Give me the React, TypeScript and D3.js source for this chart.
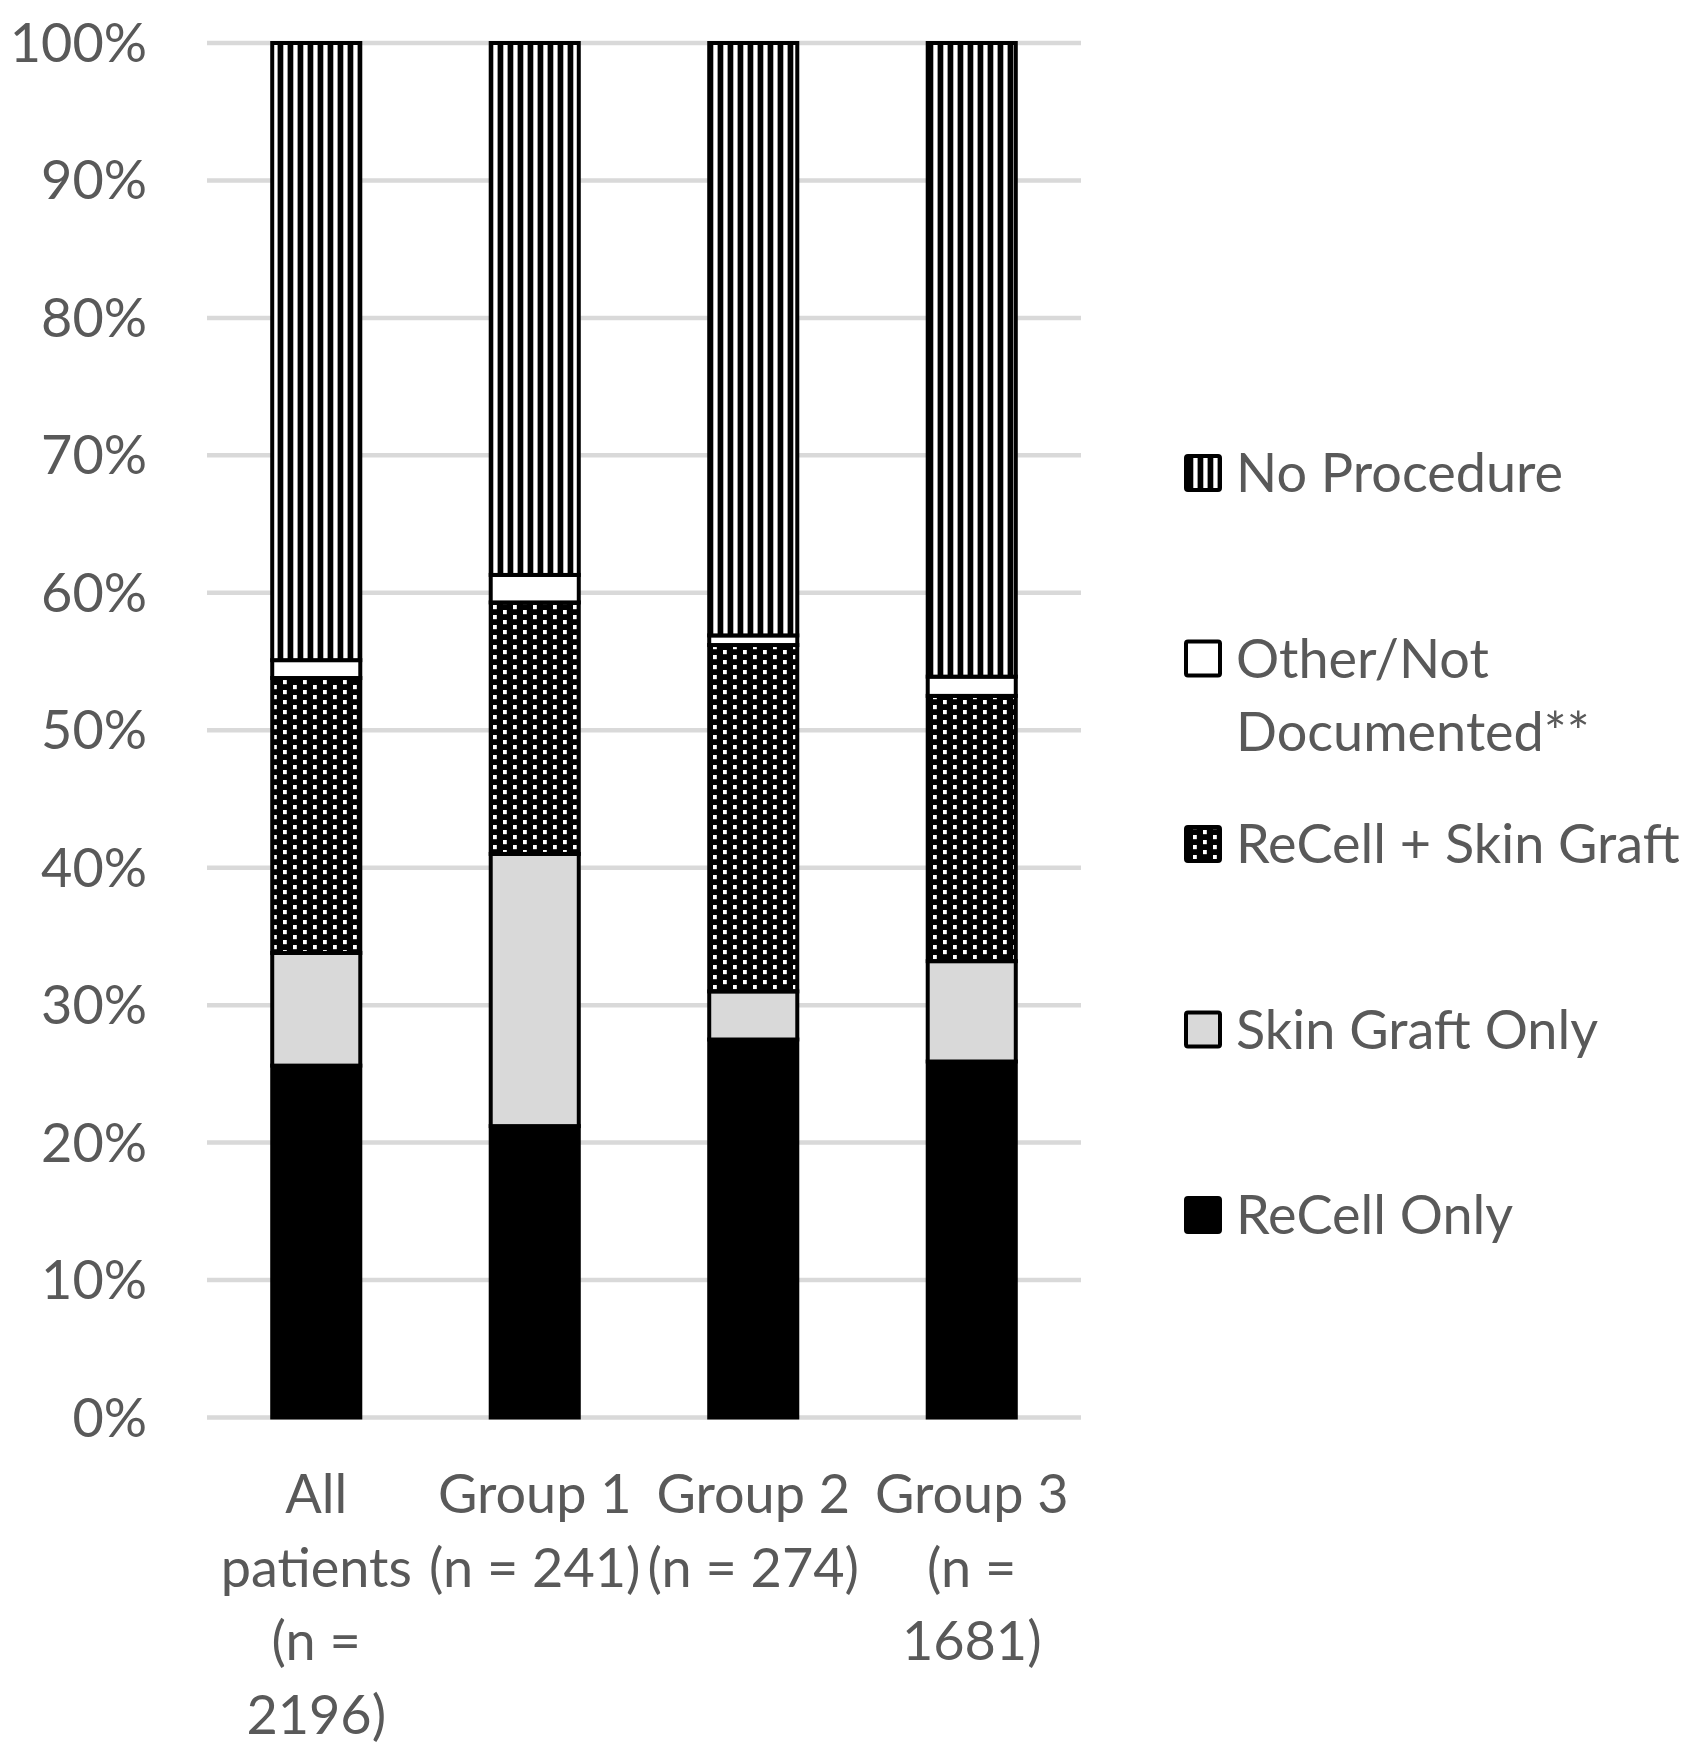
import * as d3 from 'd3'

// ── Data (percent of patients) ─────────────────────────────────────────────
const CATEGORIES = ['All patients', 'Group 1', 'Group 2', 'Group 3']
const CATEGORY_LINES = [
  ['All', 'patients', '(n =', '2196)'],
  ['Group 1', '(n = 241)'],
  ['Group 2', '(n = 274)'],
  ['Group 3', '(n =', '1681)'],
]
const RECELL_ONLY = [25.6, 21.2, 27.5, 25.9]
const SKIN_GRAFT_ONLY = [8.2, 19.8, 3.5, 7.3]
const RECELL_SKIN_GRAFT = [20.0, 18.3, 25.2, 19.3]
const OTHER_NOT_DOC = [1.3, 2.0, 0.7, 1.4]
const NO_PROCEDURE = [44.9, 38.7, 43.1, 46.1]

const SERIES = [
  { key: 'recellOnly', label: ['ReCell Only'], values: RECELL_ONLY, fill: '#000' },
  { key: 'skinGraftOnly', label: ['Skin Graft Only'], values: SKIN_GRAFT_ONLY, fill: '#d9d9d9' },
  { key: 'recellSkinGraft', label: ['ReCell + Skin Graft'], values: RECELL_SKIN_GRAFT, fill: 'url(#dots)' },
  { key: 'other', label: ['Other/Not', 'Documented**'], values: OTHER_NOT_DOC, fill: '#fff' },
  { key: 'noProcedure', label: ['No Procedure'], values: NO_PROCEDURE, fill: 'url(#stripes)' },
]

const Y_TICKS = [0, 10, 20, 30, 40, 50, 60, 70, 80, 90, 100]

const W = 1702
const H = 1762
const TEXT = '#595959'
const FONT = 'Lato, "Open Sans", sans-serif'
const FS = 54

export default function App() {
  const x = d3.scaleBand<string>()
    .domain(CATEGORIES)
    .range([207, 1081])
    .paddingInner(0.597)
    .paddingOuter(0.2985)
  const y = d3.scaleLinear().domain([0, 100]).range([1417.5, 43])

  const rows = CATEGORIES.map((c, i) => {
    const r: Record<string, number | string> = { cat: c }
    SERIES.forEach((s) => { r[s.key] = s.values[i] })
    return r
  })
  const stack = d3.stack<Record<string, number | string>>().keys(SERIES.map((s) => s.key))
  const layers = stack(rows as any)

  // legend goes top-down in reverse series order
  const legend = [...SERIES].reverse()
  const legendY = d3.scaleLinear().domain([0, 1]).range([473, 658.5])

  return (
    <div style={{ position: 'absolute', left: 0, top: 0 }}>
      <svg width={W} height={H} style={{ display: 'block', background: '#fff' }}>
        <defs>
          <pattern id="stripes" patternUnits="userSpaceOnUse" width={10} height={10}>
            <rect width={10} height={10} fill="#000" />
            <rect x={3.3} width={4.3} height={10} fill="#fff" />
          </pattern>
          <pattern id="dots" patternUnits="userSpaceOnUse" width={20} height={10}>
            <rect width={20} height={10} fill="#000" />
            <rect x={3} y={0} width={3.8} height={4.2} fill="#fff" />
            <rect x={13} y={5} width={3.8} height={4.2} fill="#fff" />
          </pattern>
        </defs>

        {/* gridlines */}
        {Y_TICKS.map((t) => (
          <line key={t} x1={207} x2={1081} y1={y(t)} y2={y(t)} stroke="#d9d9d9" strokeWidth={4.5} />
        ))}

        {/* y tick labels */}
        {Y_TICKS.map((t) => (
          <text key={t} x={147} y={y(t) + 19} textAnchor="end" fill={TEXT}
            fontFamily={FONT} fontSize={FS}>{`${t}%`}</text>
        ))}

        {/* stacked bars */}
        {layers.map((layer, li) => (
          <g key={layer.key}>
            {layer.map((d, i) => (
              <rect key={i}
                x={x(CATEGORIES[i])}
                width={x.bandwidth()}
                y={y(d[1])}
                height={y(d[0]) - y(d[1])}
                fill={SERIES[li].fill}
                stroke="#000"
                strokeWidth={4}
              />
            ))}
          </g>
        ))}

        {/* x labels */}
        {CATEGORY_LINES.map((lines, i) => (
          <text key={i} textAnchor="middle" fill={TEXT} fontFamily={FONT} fontSize={FS}>
            {lines.map((ln, j) => (
              <tspan key={j} x={(x(CATEGORIES[i]) ?? 0) + x.bandwidth() / 2} y={1513 + j * 73.5}>{ln}</tspan>
            ))}
          </text>
        ))}

        {/* legend */}
        {legend.map((s, i) => {
          const cy = legendY(i)
          return (
            <g key={s.key}>
              <rect x={1186} y={cy - 17} width={34} height={34} rx={2}
                fill={s.fill} stroke="#000" strokeWidth={4} />
              <text fill={TEXT} fontFamily={FONT} fontSize={FS}>
                {s.label.map((ln, j) => (
                  <tspan key={j} x={1236} y={cy + 19 + j * 73.5}>{ln}</tspan>
                ))}
              </text>
            </g>
          )
        })}
      </svg>
    </div>
  )
}
